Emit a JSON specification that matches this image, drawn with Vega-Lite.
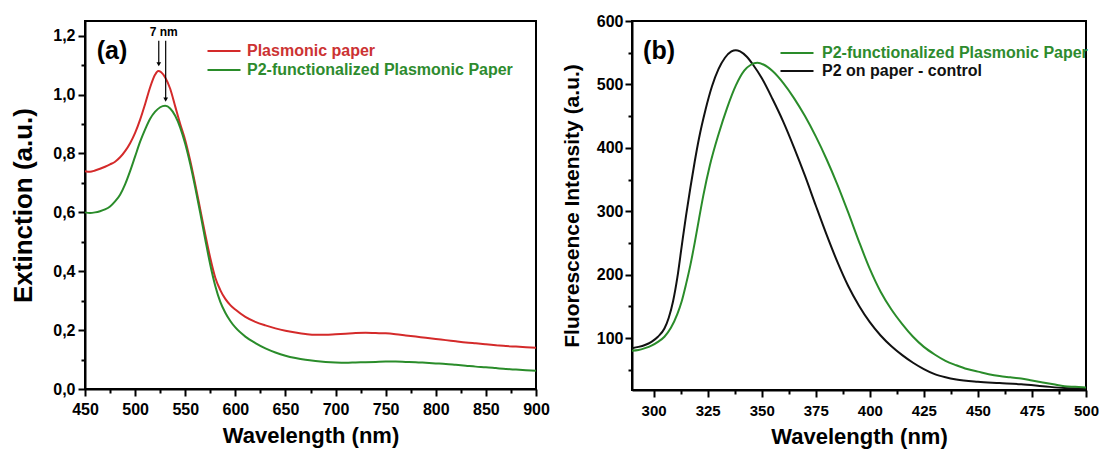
{
  "$schema": "https://vega.github.io/schema/vega-lite/v6.json",
  "background": "white",
  "padding": {"left": 9, "top": 12, "right": 5, "bottom": 5},
  "spacing": 9,
  "config": {
    "view": {"stroke": "black", "strokeWidth": 2},
    "font": "Liberation Sans",
    "axis": {
      "domainColor": "black", "domainWidth": 2,
      "tickColor": "black", "tickWidth": 2, "tickSize": 7,
      "labelFont": "Liberation Sans", "labelFontWeight": "bold", "labelColor": "black",
      "titleFont": "Liberation Sans", "titleFontWeight": "bold", "titleColor": "black",
      "grid": false
    }
  },
  "resolve": {"scale": {"color": "independent", "x": "independent", "y": "independent"}},
  "datasets": {
    "ext": [
      {"wavelength": 450, "value": 0.740, "series": "Plasmonic paper"},
      {"wavelength": 455, "value": 0.738, "series": "Plasmonic paper"},
      {"wavelength": 460, "value": 0.742, "series": "Plasmonic paper"},
      {"wavelength": 465, "value": 0.748, "series": "Plasmonic paper"},
      {"wavelength": 470, "value": 0.755, "series": "Plasmonic paper"},
      {"wavelength": 475, "value": 0.763, "series": "Plasmonic paper"},
      {"wavelength": 480, "value": 0.772, "series": "Plasmonic paper"},
      {"wavelength": 485, "value": 0.787, "series": "Plasmonic paper"},
      {"wavelength": 490, "value": 0.808, "series": "Plasmonic paper"},
      {"wavelength": 495, "value": 0.835, "series": "Plasmonic paper"},
      {"wavelength": 500, "value": 0.870, "series": "Plasmonic paper"},
      {"wavelength": 505, "value": 0.915, "series": "Plasmonic paper"},
      {"wavelength": 510, "value": 0.968, "series": "Plasmonic paper"},
      {"wavelength": 515, "value": 1.025, "series": "Plasmonic paper"},
      {"wavelength": 520, "value": 1.068, "series": "Plasmonic paper"},
      {"wavelength": 523, "value": 1.080, "series": "Plasmonic paper"},
      {"wavelength": 526, "value": 1.076, "series": "Plasmonic paper"},
      {"wavelength": 530, "value": 1.058, "series": "Plasmonic paper"},
      {"wavelength": 535, "value": 1.020, "series": "Plasmonic paper"},
      {"wavelength": 540, "value": 0.960, "series": "Plasmonic paper"},
      {"wavelength": 545, "value": 0.900, "series": "Plasmonic paper"},
      {"wavelength": 550, "value": 0.845, "series": "Plasmonic paper"},
      {"wavelength": 555, "value": 0.775, "series": "Plasmonic paper"},
      {"wavelength": 560, "value": 0.695, "series": "Plasmonic paper"},
      {"wavelength": 565, "value": 0.610, "series": "Plasmonic paper"},
      {"wavelength": 570, "value": 0.525, "series": "Plasmonic paper"},
      {"wavelength": 575, "value": 0.445, "series": "Plasmonic paper"},
      {"wavelength": 580, "value": 0.378, "series": "Plasmonic paper"},
      {"wavelength": 585, "value": 0.336, "series": "Plasmonic paper"},
      {"wavelength": 590, "value": 0.306, "series": "Plasmonic paper"},
      {"wavelength": 595, "value": 0.285, "series": "Plasmonic paper"},
      {"wavelength": 600, "value": 0.270, "series": "Plasmonic paper"},
      {"wavelength": 610, "value": 0.245, "series": "Plasmonic paper"},
      {"wavelength": 620, "value": 0.228, "series": "Plasmonic paper"},
      {"wavelength": 630, "value": 0.216, "series": "Plasmonic paper"},
      {"wavelength": 640, "value": 0.206, "series": "Plasmonic paper"},
      {"wavelength": 650, "value": 0.198, "series": "Plasmonic paper"},
      {"wavelength": 660, "value": 0.192, "series": "Plasmonic paper"},
      {"wavelength": 670, "value": 0.187, "series": "Plasmonic paper"},
      {"wavelength": 680, "value": 0.184, "series": "Plasmonic paper"},
      {"wavelength": 690, "value": 0.184, "series": "Plasmonic paper"},
      {"wavelength": 700, "value": 0.186, "series": "Plasmonic paper"},
      {"wavelength": 710, "value": 0.188, "series": "Plasmonic paper"},
      {"wavelength": 720, "value": 0.190, "series": "Plasmonic paper"},
      {"wavelength": 730, "value": 0.191, "series": "Plasmonic paper"},
      {"wavelength": 740, "value": 0.190, "series": "Plasmonic paper"},
      {"wavelength": 750, "value": 0.189, "series": "Plasmonic paper"},
      {"wavelength": 760, "value": 0.186, "series": "Plasmonic paper"},
      {"wavelength": 770, "value": 0.182, "series": "Plasmonic paper"},
      {"wavelength": 780, "value": 0.178, "series": "Plasmonic paper"},
      {"wavelength": 790, "value": 0.174, "series": "Plasmonic paper"},
      {"wavelength": 800, "value": 0.170, "series": "Plasmonic paper"},
      {"wavelength": 810, "value": 0.166, "series": "Plasmonic paper"},
      {"wavelength": 820, "value": 0.162, "series": "Plasmonic paper"},
      {"wavelength": 830, "value": 0.158, "series": "Plasmonic paper"},
      {"wavelength": 840, "value": 0.155, "series": "Plasmonic paper"},
      {"wavelength": 850, "value": 0.152, "series": "Plasmonic paper"},
      {"wavelength": 860, "value": 0.149, "series": "Plasmonic paper"},
      {"wavelength": 870, "value": 0.146, "series": "Plasmonic paper"},
      {"wavelength": 880, "value": 0.144, "series": "Plasmonic paper"},
      {"wavelength": 890, "value": 0.142, "series": "Plasmonic paper"},
      {"wavelength": 900, "value": 0.140, "series": "Plasmonic paper"},
      {"wavelength": 450, "value": 0.600, "series": "P2-functionalized Plasmonic Paper"},
      {"wavelength": 455, "value": 0.598, "series": "P2-functionalized Plasmonic Paper"},
      {"wavelength": 460, "value": 0.600, "series": "P2-functionalized Plasmonic Paper"},
      {"wavelength": 465, "value": 0.604, "series": "P2-functionalized Plasmonic Paper"},
      {"wavelength": 470, "value": 0.610, "series": "P2-functionalized Plasmonic Paper"},
      {"wavelength": 475, "value": 0.620, "series": "P2-functionalized Plasmonic Paper"},
      {"wavelength": 480, "value": 0.637, "series": "P2-functionalized Plasmonic Paper"},
      {"wavelength": 485, "value": 0.660, "series": "P2-functionalized Plasmonic Paper"},
      {"wavelength": 490, "value": 0.695, "series": "P2-functionalized Plasmonic Paper"},
      {"wavelength": 495, "value": 0.740, "series": "P2-functionalized Plasmonic Paper"},
      {"wavelength": 500, "value": 0.790, "series": "P2-functionalized Plasmonic Paper"},
      {"wavelength": 505, "value": 0.840, "series": "P2-functionalized Plasmonic Paper"},
      {"wavelength": 510, "value": 0.882, "series": "P2-functionalized Plasmonic Paper"},
      {"wavelength": 515, "value": 0.918, "series": "P2-functionalized Plasmonic Paper"},
      {"wavelength": 520, "value": 0.942, "series": "P2-functionalized Plasmonic Paper"},
      {"wavelength": 525, "value": 0.957, "series": "P2-functionalized Plasmonic Paper"},
      {"wavelength": 530, "value": 0.962, "series": "P2-functionalized Plasmonic Paper"},
      {"wavelength": 535, "value": 0.953, "series": "P2-functionalized Plasmonic Paper"},
      {"wavelength": 540, "value": 0.928, "series": "P2-functionalized Plasmonic Paper"},
      {"wavelength": 545, "value": 0.888, "series": "P2-functionalized Plasmonic Paper"},
      {"wavelength": 550, "value": 0.833, "series": "P2-functionalized Plasmonic Paper"},
      {"wavelength": 555, "value": 0.764, "series": "P2-functionalized Plasmonic Paper"},
      {"wavelength": 560, "value": 0.684, "series": "P2-functionalized Plasmonic Paper"},
      {"wavelength": 565, "value": 0.598, "series": "P2-functionalized Plasmonic Paper"},
      {"wavelength": 570, "value": 0.508, "series": "P2-functionalized Plasmonic Paper"},
      {"wavelength": 575, "value": 0.422, "series": "P2-functionalized Plasmonic Paper"},
      {"wavelength": 580, "value": 0.350, "series": "P2-functionalized Plasmonic Paper"},
      {"wavelength": 585, "value": 0.296, "series": "P2-functionalized Plasmonic Paper"},
      {"wavelength": 590, "value": 0.259, "series": "P2-functionalized Plasmonic Paper"},
      {"wavelength": 595, "value": 0.231, "series": "P2-functionalized Plasmonic Paper"},
      {"wavelength": 600, "value": 0.209, "series": "P2-functionalized Plasmonic Paper"},
      {"wavelength": 610, "value": 0.178, "series": "P2-functionalized Plasmonic Paper"},
      {"wavelength": 620, "value": 0.156, "series": "P2-functionalized Plasmonic Paper"},
      {"wavelength": 630, "value": 0.138, "series": "P2-functionalized Plasmonic Paper"},
      {"wavelength": 640, "value": 0.124, "series": "P2-functionalized Plasmonic Paper"},
      {"wavelength": 650, "value": 0.113, "series": "P2-functionalized Plasmonic Paper"},
      {"wavelength": 660, "value": 0.105, "series": "P2-functionalized Plasmonic Paper"},
      {"wavelength": 670, "value": 0.099, "series": "P2-functionalized Plasmonic Paper"},
      {"wavelength": 680, "value": 0.095, "series": "P2-functionalized Plasmonic Paper"},
      {"wavelength": 690, "value": 0.092, "series": "P2-functionalized Plasmonic Paper"},
      {"wavelength": 700, "value": 0.090, "series": "P2-functionalized Plasmonic Paper"},
      {"wavelength": 710, "value": 0.089, "series": "P2-functionalized Plasmonic Paper"},
      {"wavelength": 720, "value": 0.090, "series": "P2-functionalized Plasmonic Paper"},
      {"wavelength": 730, "value": 0.091, "series": "P2-functionalized Plasmonic Paper"},
      {"wavelength": 740, "value": 0.092, "series": "P2-functionalized Plasmonic Paper"},
      {"wavelength": 750, "value": 0.093, "series": "P2-functionalized Plasmonic Paper"},
      {"wavelength": 760, "value": 0.093, "series": "P2-functionalized Plasmonic Paper"},
      {"wavelength": 770, "value": 0.092, "series": "P2-functionalized Plasmonic Paper"},
      {"wavelength": 780, "value": 0.091, "series": "P2-functionalized Plasmonic Paper"},
      {"wavelength": 790, "value": 0.089, "series": "P2-functionalized Plasmonic Paper"},
      {"wavelength": 800, "value": 0.087, "series": "P2-functionalized Plasmonic Paper"},
      {"wavelength": 810, "value": 0.085, "series": "P2-functionalized Plasmonic Paper"},
      {"wavelength": 820, "value": 0.082, "series": "P2-functionalized Plasmonic Paper"},
      {"wavelength": 830, "value": 0.079, "series": "P2-functionalized Plasmonic Paper"},
      {"wavelength": 840, "value": 0.076, "series": "P2-functionalized Plasmonic Paper"},
      {"wavelength": 850, "value": 0.074, "series": "P2-functionalized Plasmonic Paper"},
      {"wavelength": 860, "value": 0.071, "series": "P2-functionalized Plasmonic Paper"},
      {"wavelength": 870, "value": 0.068, "series": "P2-functionalized Plasmonic Paper"},
      {"wavelength": 880, "value": 0.066, "series": "P2-functionalized Plasmonic Paper"},
      {"wavelength": 890, "value": 0.064, "series": "P2-functionalized Plasmonic Paper"},
      {"wavelength": 900, "value": 0.062, "series": "P2-functionalized Plasmonic Paper"}
    ],
    "fluo": [
      {"wavelength": 290, "value": 84, "series": "P2 on paper - control"},
      {"wavelength": 293, "value": 86, "series": "P2 on paper - control"},
      {"wavelength": 296, "value": 89, "series": "P2 on paper - control"},
      {"wavelength": 299, "value": 94, "series": "P2 on paper - control"},
      {"wavelength": 302, "value": 102, "series": "P2 on paper - control"},
      {"wavelength": 305, "value": 115, "series": "P2 on paper - control"},
      {"wavelength": 307, "value": 132, "series": "P2 on paper - control"},
      {"wavelength": 309, "value": 158, "series": "P2 on paper - control"},
      {"wavelength": 311, "value": 196, "series": "P2 on paper - control"},
      {"wavelength": 313, "value": 245, "series": "P2 on paper - control"},
      {"wavelength": 315, "value": 293, "series": "P2 on paper - control"},
      {"wavelength": 317, "value": 337, "series": "P2 on paper - control"},
      {"wavelength": 319, "value": 378, "series": "P2 on paper - control"},
      {"wavelength": 321, "value": 415, "series": "P2 on paper - control"},
      {"wavelength": 324, "value": 460, "series": "P2 on paper - control"},
      {"wavelength": 327, "value": 497, "series": "P2 on paper - control"},
      {"wavelength": 330, "value": 524, "series": "P2 on paper - control"},
      {"wavelength": 333, "value": 542, "series": "P2 on paper - control"},
      {"wavelength": 336, "value": 552, "series": "P2 on paper - control"},
      {"wavelength": 338, "value": 554, "series": "P2 on paper - control"},
      {"wavelength": 340, "value": 552, "series": "P2 on paper - control"},
      {"wavelength": 343, "value": 544, "series": "P2 on paper - control"},
      {"wavelength": 346, "value": 531, "series": "P2 on paper - control"},
      {"wavelength": 350, "value": 510, "series": "P2 on paper - control"},
      {"wavelength": 355, "value": 477, "series": "P2 on paper - control"},
      {"wavelength": 360, "value": 441, "series": "P2 on paper - control"},
      {"wavelength": 365, "value": 400, "series": "P2 on paper - control"},
      {"wavelength": 370, "value": 356, "series": "P2 on paper - control"},
      {"wavelength": 375, "value": 309, "series": "P2 on paper - control"},
      {"wavelength": 380, "value": 263, "series": "P2 on paper - control"},
      {"wavelength": 385, "value": 220, "series": "P2 on paper - control"},
      {"wavelength": 390, "value": 182, "series": "P2 on paper - control"},
      {"wavelength": 395, "value": 151, "series": "P2 on paper - control"},
      {"wavelength": 400, "value": 125, "series": "P2 on paper - control"},
      {"wavelength": 405, "value": 104, "series": "P2 on paper - control"},
      {"wavelength": 410, "value": 87, "series": "P2 on paper - control"},
      {"wavelength": 415, "value": 73, "series": "P2 on paper - control"},
      {"wavelength": 420, "value": 61, "series": "P2 on paper - control"},
      {"wavelength": 425, "value": 51, "series": "P2 on paper - control"},
      {"wavelength": 430, "value": 43, "series": "P2 on paper - control"},
      {"wavelength": 435, "value": 38, "series": "P2 on paper - control"},
      {"wavelength": 440, "value": 34.5, "series": "P2 on paper - control"},
      {"wavelength": 450, "value": 31, "series": "P2 on paper - control"},
      {"wavelength": 460, "value": 29, "series": "P2 on paper - control"},
      {"wavelength": 470, "value": 27, "series": "P2 on paper - control"},
      {"wavelength": 480, "value": 24, "series": "P2 on paper - control"},
      {"wavelength": 490, "value": 21, "series": "P2 on paper - control"},
      {"wavelength": 500, "value": 20, "series": "P2 on paper - control"},
      {"wavelength": 290, "value": 80, "series": "P2-functionalized Plasmonic Paper"},
      {"wavelength": 293, "value": 81, "series": "P2-functionalized Plasmonic Paper"},
      {"wavelength": 296, "value": 84, "series": "P2-functionalized Plasmonic Paper"},
      {"wavelength": 299, "value": 88, "series": "P2-functionalized Plasmonic Paper"},
      {"wavelength": 302, "value": 94, "series": "P2-functionalized Plasmonic Paper"},
      {"wavelength": 305, "value": 102, "series": "P2-functionalized Plasmonic Paper"},
      {"wavelength": 308, "value": 116, "series": "P2-functionalized Plasmonic Paper"},
      {"wavelength": 311, "value": 138, "series": "P2-functionalized Plasmonic Paper"},
      {"wavelength": 313, "value": 158, "series": "P2-functionalized Plasmonic Paper"},
      {"wavelength": 315, "value": 185, "series": "P2-functionalized Plasmonic Paper"},
      {"wavelength": 317, "value": 215, "series": "P2-functionalized Plasmonic Paper"},
      {"wavelength": 319, "value": 250, "series": "P2-functionalized Plasmonic Paper"},
      {"wavelength": 321, "value": 288, "series": "P2-functionalized Plasmonic Paper"},
      {"wavelength": 323, "value": 325, "series": "P2-functionalized Plasmonic Paper"},
      {"wavelength": 326, "value": 372, "series": "P2-functionalized Plasmonic Paper"},
      {"wavelength": 330, "value": 421, "series": "P2-functionalized Plasmonic Paper"},
      {"wavelength": 334, "value": 463, "series": "P2-functionalized Plasmonic Paper"},
      {"wavelength": 338, "value": 498, "series": "P2-functionalized Plasmonic Paper"},
      {"wavelength": 342, "value": 522, "series": "P2-functionalized Plasmonic Paper"},
      {"wavelength": 345, "value": 531, "series": "P2-functionalized Plasmonic Paper"},
      {"wavelength": 348, "value": 534, "series": "P2-functionalized Plasmonic Paper"},
      {"wavelength": 351, "value": 531, "series": "P2-functionalized Plasmonic Paper"},
      {"wavelength": 355, "value": 521, "series": "P2-functionalized Plasmonic Paper"},
      {"wavelength": 360, "value": 502, "series": "P2-functionalized Plasmonic Paper"},
      {"wavelength": 365, "value": 478, "series": "P2-functionalized Plasmonic Paper"},
      {"wavelength": 370, "value": 450, "series": "P2-functionalized Plasmonic Paper"},
      {"wavelength": 375, "value": 418, "series": "P2-functionalized Plasmonic Paper"},
      {"wavelength": 380, "value": 382, "series": "P2-functionalized Plasmonic Paper"},
      {"wavelength": 385, "value": 342, "series": "P2-functionalized Plasmonic Paper"},
      {"wavelength": 390, "value": 298, "series": "P2-functionalized Plasmonic Paper"},
      {"wavelength": 395, "value": 252, "series": "P2-functionalized Plasmonic Paper"},
      {"wavelength": 400, "value": 209, "series": "P2-functionalized Plasmonic Paper"},
      {"wavelength": 405, "value": 173, "series": "P2-functionalized Plasmonic Paper"},
      {"wavelength": 410, "value": 145, "series": "P2-functionalized Plasmonic Paper"},
      {"wavelength": 415, "value": 122, "series": "P2-functionalized Plasmonic Paper"},
      {"wavelength": 420, "value": 102, "series": "P2-functionalized Plasmonic Paper"},
      {"wavelength": 425, "value": 86, "series": "P2-functionalized Plasmonic Paper"},
      {"wavelength": 430, "value": 74, "series": "P2-functionalized Plasmonic Paper"},
      {"wavelength": 435, "value": 64, "series": "P2-functionalized Plasmonic Paper"},
      {"wavelength": 440, "value": 57, "series": "P2-functionalized Plasmonic Paper"},
      {"wavelength": 445, "value": 51, "series": "P2-functionalized Plasmonic Paper"},
      {"wavelength": 450, "value": 47, "series": "P2-functionalized Plasmonic Paper"},
      {"wavelength": 455, "value": 43, "series": "P2-functionalized Plasmonic Paper"},
      {"wavelength": 460, "value": 40, "series": "P2-functionalized Plasmonic Paper"},
      {"wavelength": 465, "value": 38, "series": "P2-functionalized Plasmonic Paper"},
      {"wavelength": 470, "value": 36, "series": "P2-functionalized Plasmonic Paper"},
      {"wavelength": 475, "value": 33, "series": "P2-functionalized Plasmonic Paper"},
      {"wavelength": 480, "value": 30, "series": "P2-functionalized Plasmonic Paper"},
      {"wavelength": 485, "value": 27, "series": "P2-functionalized Plasmonic Paper"},
      {"wavelength": 490, "value": 24, "series": "P2-functionalized Plasmonic Paper"},
      {"wavelength": 495, "value": 23, "series": "P2-functionalized Plasmonic Paper"},
      {"wavelength": 500, "value": 22, "series": "P2-functionalized Plasmonic Paper"}
    ],
    "panelA": [{"x": 477, "y": 1.149, "label": "(a)"}],
    "shiftLabel": [{"x": 528.5, "y": 1.212, "label": "7 nm"}],
    "arrows": [
      {"x": 523.6, "y": 1.183, "y2": 1.103},
      {"x": 530.5, "y": 1.183, "y2": 0.983}
    ],
    "panelB": [{"x": 302.5, "y": 552.7, "label": "(b)"}]
  },
  "hconcat": [
    {
      "width": 451,
      "height": 368,
      "resolve": {"axis": {"x": "independent", "y": "independent"}},
      "layer": [
        {
          "data": {"name": "ext"},
          "mark": {"type": "line", "strokeWidth": 2, "interpolate": "monotone"},
          "encoding": {
            "x": {"field": "wavelength", "type": "quantitative",
              "scale": {"domain": [450, 900], "nice": false, "zero": false},
              "axis": {"orient": "bottom", "values": [450, 500, 550, 600, 650, 700, 750, 800, 850, 900],
                "title": "Wavelength (nm)", "titleFontSize": 22, "labelFontSize": 16,
                "labelPadding": 5, "titlePadding": 8, "labelFlush": false}},
            "y": {"field": "value", "type": "quantitative",
              "scale": {"domain": [0, 1.25], "nice": false, "zero": false},
              "axis": {"orient": "left", "values": [0, 0.2, 0.4, 0.6, 0.8, 1.0, 1.2],
                "labelExpr": "replace(format(datum.value, '.1f'), '.', ',')",
                "title": "Extinction (a.u.)", "titleFontSize": 26, "labelFontSize": 16,
                "labelPadding": 3, "titlePadding": 16}},
            "color": {"field": "series", "type": "nominal",
              "scale": {"domain": ["Plasmonic paper", "P2-functionalized Plasmonic Paper"], "range": ["#d42a2a", "#2a8c2a"]},
              "legend": {"orient": "none", "legendX": 120, "legendY": 22, "title": null,
                "symbolType": "M -1 0 H 5", "symbolSize": 121, "symbolStrokeWidth": 2,
                "labelFont": "Liberation Sans", "labelFontWeight": "bold", "labelFontSize": 16,
                "labelOffset": 26, "rowPadding": 3, "padding": 0, "labelLimit": 400,
                "encode": {"labels": {"update": {"fill": {"signal": "datum.value === 'Plasmonic paper' ? '#cc3333' : '#2e8b2e'"}}}}}}
          }
        },
        {
          "data": {"name": "panelA"},
          "mark": {"type": "text", "fontSize": 25, "fontWeight": "bold", "font": "Liberation Sans", "color": "black"},
          "encoding": {
            "x": {"field": "x", "type": "quantitative", "scale": {"domain": [450, 900], "nice": false, "zero": false},
              "axis": {"orient": "bottom", "values": [475, 525, 575, 625, 675, 725, 775, 825, 875],
                "labels": false, "domain": false, "tickSize": 4, "title": null}},
            "y": {"field": "y", "type": "quantitative", "scale": {"domain": [0, 1.25], "nice": false, "zero": false},
              "axis": {"orient": "left", "values": [0.1, 0.3, 0.5, 0.7, 0.9, 1.1],
                "labels": false, "domain": false, "tickSize": 4, "title": null}},
            "text": {"field": "label"}
          }
        },
        {
          "data": {"name": "shiftLabel"},
          "mark": {"type": "text", "fontSize": 12, "fontWeight": "bold", "font": "Liberation Sans", "color": "black"},
          "encoding": {
            "x": {"field": "x", "type": "quantitative", "scale": {"domain": [450, 900], "nice": false, "zero": false}, "axis": null},
            "y": {"field": "y", "type": "quantitative", "scale": {"domain": [0, 1.25], "nice": false, "zero": false}, "axis": null},
            "text": {"field": "label"}
          }
        },
        {
          "data": {"name": "arrows"},
          "mark": {"type": "rule", "color": "black", "strokeWidth": 1.2},
          "encoding": {
            "x": {"field": "x", "type": "quantitative", "scale": {"domain": [450, 900], "nice": false, "zero": false}, "axis": null},
            "y": {"field": "y", "type": "quantitative", "scale": {"domain": [0, 1.25], "nice": false, "zero": false}, "axis": null},
            "y2": {"field": "y2"}
          }
        },
        {
          "data": {"name": "arrows"},
          "mark": {"type": "point", "shape": "triangle-down", "filled": true, "color": "black", "size": 22, "opacity": 1},
          "encoding": {
            "x": {"field": "x", "type": "quantitative", "scale": {"domain": [450, 900], "nice": false, "zero": false}, "axis": null},
            "y": {"field": "y2", "type": "quantitative", "scale": {"domain": [0, 1.25], "nice": false, "zero": false}, "axis": null}
          }
        }
      ]
    },
    {
      "width": 454,
      "height": 369,
      "resolve": {"axis": {"x": "independent", "y": "independent"}},
      "layer": [
        {
          "data": {"name": "fluo"},
          "mark": {"type": "line", "strokeWidth": 2, "interpolate": "monotone"},
          "encoding": {
            "x": {"field": "wavelength", "type": "quantitative",
              "scale": {"domain": [290, 500], "nice": false, "zero": false},
              "axis": {"orient": "bottom", "values": [300, 325, 350, 375, 400, 425, 450, 475, 500],
                "title": "Wavelength (nm)", "titleFontSize": 22, "labelFontSize": 15,
                "labelPadding": 6, "titlePadding": 8, "labelFlush": false}},
            "y": {"field": "value", "type": "quantitative",
              "scale": {"domain": [18, 600], "nice": false, "zero": false},
              "axis": {"orient": "left", "values": [100, 200, 300, 400, 500, 600],
                "title": "Fluorescence Intensity (a.u.)", "titleFontSize": 21, "labelFontSize": 16,
                "labelPadding": 2, "titlePadding": 14}},
            "color": {"field": "series", "type": "nominal",
              "scale": {"domain": ["P2-functionalized Plasmonic Paper", "P2 on paper - control"], "range": ["#2a8c2a", "#111111"]},
              "legend": {"orient": "none", "legendX": 146, "legendY": 24, "title": null,
                "symbolType": "M -1 0 H 5", "symbolSize": 121, "symbolStrokeWidth": 2,
                "labelFont": "Liberation Sans", "labelFontWeight": "bold", "labelFontSize": 16,
                "labelOffset": 28, "rowPadding": 2, "padding": 0, "labelLimit": 400,
                "encode": {"labels": {"update": {"fill": {"signal": "datum.value === 'P2 on paper - control' ? '#111111' : '#2e8b2e'"}}}}}}
          }
        },
        {
          "data": {"name": "panelB"},
          "mark": {"type": "text", "fontSize": 25, "fontWeight": "bold", "font": "Liberation Sans", "color": "black"},
          "encoding": {
            "x": {"field": "x", "type": "quantitative", "scale": {"domain": [290, 500], "nice": false, "zero": false},
              "axis": {"orient": "bottom", "values": [312.5, 337.5, 362.5, 387.5, 412.5, 437.5, 462.5, 487.5],
                "labels": false, "domain": false, "tickSize": 4, "title": null}},
            "y": {"field": "y", "type": "quantitative", "scale": {"domain": [18, 600], "nice": false, "zero": false},
              "axis": {"orient": "left", "values": [50, 150, 250, 350, 450, 550],
                "labels": false, "domain": false, "tickSize": 4, "title": null}},
            "text": {"field": "label"}
          }
        }
      ]
    }
  ]
}
